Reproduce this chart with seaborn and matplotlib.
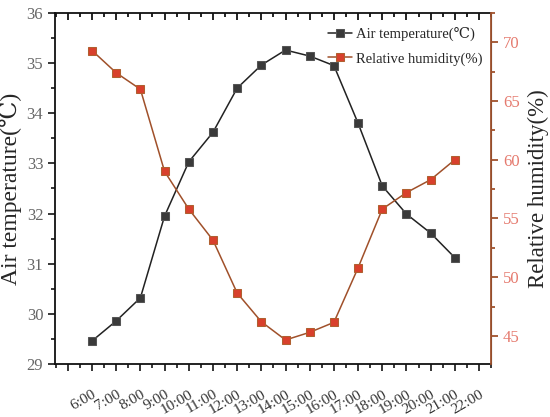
import numpy as np
import pandas as pd
import matplotlib
matplotlib.use("Agg")
import matplotlib.pyplot as plt
import seaborn as sns
from matplotlib.ticker import MultipleLocator

# Hourly readings, 6:00 to 21:00
hours = [6, 7, 8, 9, 10, 11, 12, 13, 14, 15, 16, 17, 18, 19, 20, 21]
air_temp = [29.46, 29.86, 30.32, 31.95, 33.03, 33.62, 34.50, 34.96,
            35.26, 35.14, 34.95, 33.80, 32.55, 31.99, 31.61, 31.12]
humidity = [69.3, 67.4, 66.0, 59.0, 55.8, 53.15, 48.65, 46.2,
            44.65, 45.3, 46.15, 50.8, 55.8, 57.2, 58.3, 60.0]
tick_hours = list(range(5, 23))
tick_labels = [""] + [f"{h}:00" for h in range(6, 23)]

df = pd.DataFrame({"Hour": hours, "Temp": air_temp, "RH": humidity})

sns.set_style("ticks")
plt.rcParams["font.family"] = ["Liberation Serif", "DejaVu Serif"]

fig, ax = plt.subplots(figsize=(5.5, 4.17), dpi=100)
fig.subplots_adjust(left=0.1, right=0.893, top=0.969, bottom=0.127)
ax2 = ax.twinx()

sns.lineplot(data=df, x="Hour", y="Temp", ax=ax, color="#222222", lw=1.1,
             marker="s", markersize=5.5, markerfacecolor="#3a3a3a",
             markeredgecolor="#555555", label="Air temperature(\u2103)", legend=False)
sns.lineplot(data=df, x="Hour", y="RH", ax=ax2, color="#a0502a", lw=1.1,
             marker="s", markersize=5.5, markerfacecolor="#d8402c",
             markeredgecolor="#b06030", label="Relative humidity(%)", legend=False)

# left axis and bottom ticks
ax.set_xlim(4.47, 22.5)
ax.set_ylim(29, 36)
ax.yaxis.set_major_locator(MultipleLocator(1))
ax.yaxis.set_minor_locator(MultipleLocator(0.5))
ax.set_xticks(tick_hours)
ax.set_xticklabels(tick_labels, rotation=30, ha="right", va="top",
                   rotation_mode="anchor", fontsize=11, color="#333333")
ax.xaxis.set_minor_locator(MultipleLocator(0.5))
ax.tick_params(axis="x", which="both", direction="out", top=False, width=1.3,
               pad=12)
ax.tick_params(axis="x", which="major", length=5)
ax.tick_params(axis="x", which="minor", length=3)
ax.tick_params(axis="y", which="major", direction="out", length=5, width=1.3,
               labelsize=12, labelcolor="#666666")
ax.tick_params(axis="y", which="minor", direction="out", length=3, width=1.3)
ax.set_xlabel("")
ax.set_ylabel("Air temperature(\u2103)", fontsize=17, labelpad=3)
for s in ["left", "bottom", "top"]:
    ax.spines[s].set_linewidth(1.3)
    ax.spines[s].set_color("#111111")

# right axis; its shared x axis carries the inward top ticks
rc = "#a0522d"
ax2.set_ylim(42.6, 72.5)
ax2.yaxis.set_major_locator(MultipleLocator(5))
ax2.yaxis.set_minor_locator(MultipleLocator(2.5))
ax2.tick_params(axis="y", which="major", direction="out", length=5, width=1.3,
                color=rc, labelsize=12, labelcolor="#e57a6e")
ax2.tick_params(axis="y", which="minor", direction="out", length=3, width=1.3,
                color=rc)
ax2.xaxis.set_visible(True)
ax2.xaxis.set_ticks_position("top")
ax2.tick_params(axis="x", which="both", direction="in", top=True, bottom=False,
                labeltop=False, labelbottom=False, width=1.3, color="#111111")
ax2.tick_params(axis="x", which="major", length=5)
ax2.tick_params(axis="x", which="minor", length=3)
ax2.spines["right"].set_color(rc)
ax2.spines["right"].set_linewidth(1.3)
for s in ["left", "bottom", "top"]:
    ax2.spines[s].set_visible(False)
ax2.set_ylabel("Relative humidity(%)", fontsize=16.5, labelpad=6)
ax2.set_xlabel("")

h1, l1 = ax.get_legend_handles_labels()
h2, l2 = ax2.get_legend_handles_labels()
ax2.legend(h1 + h2, l1 + l2, loc="upper right", bbox_to_anchor=(1.0, 0.985),
           frameon=False, fontsize=10.5, handlelength=1.6, handletextpad=0.3,
           borderaxespad=0.2, labelspacing=0.75)

fig.savefig("out.png", dpi=100)
